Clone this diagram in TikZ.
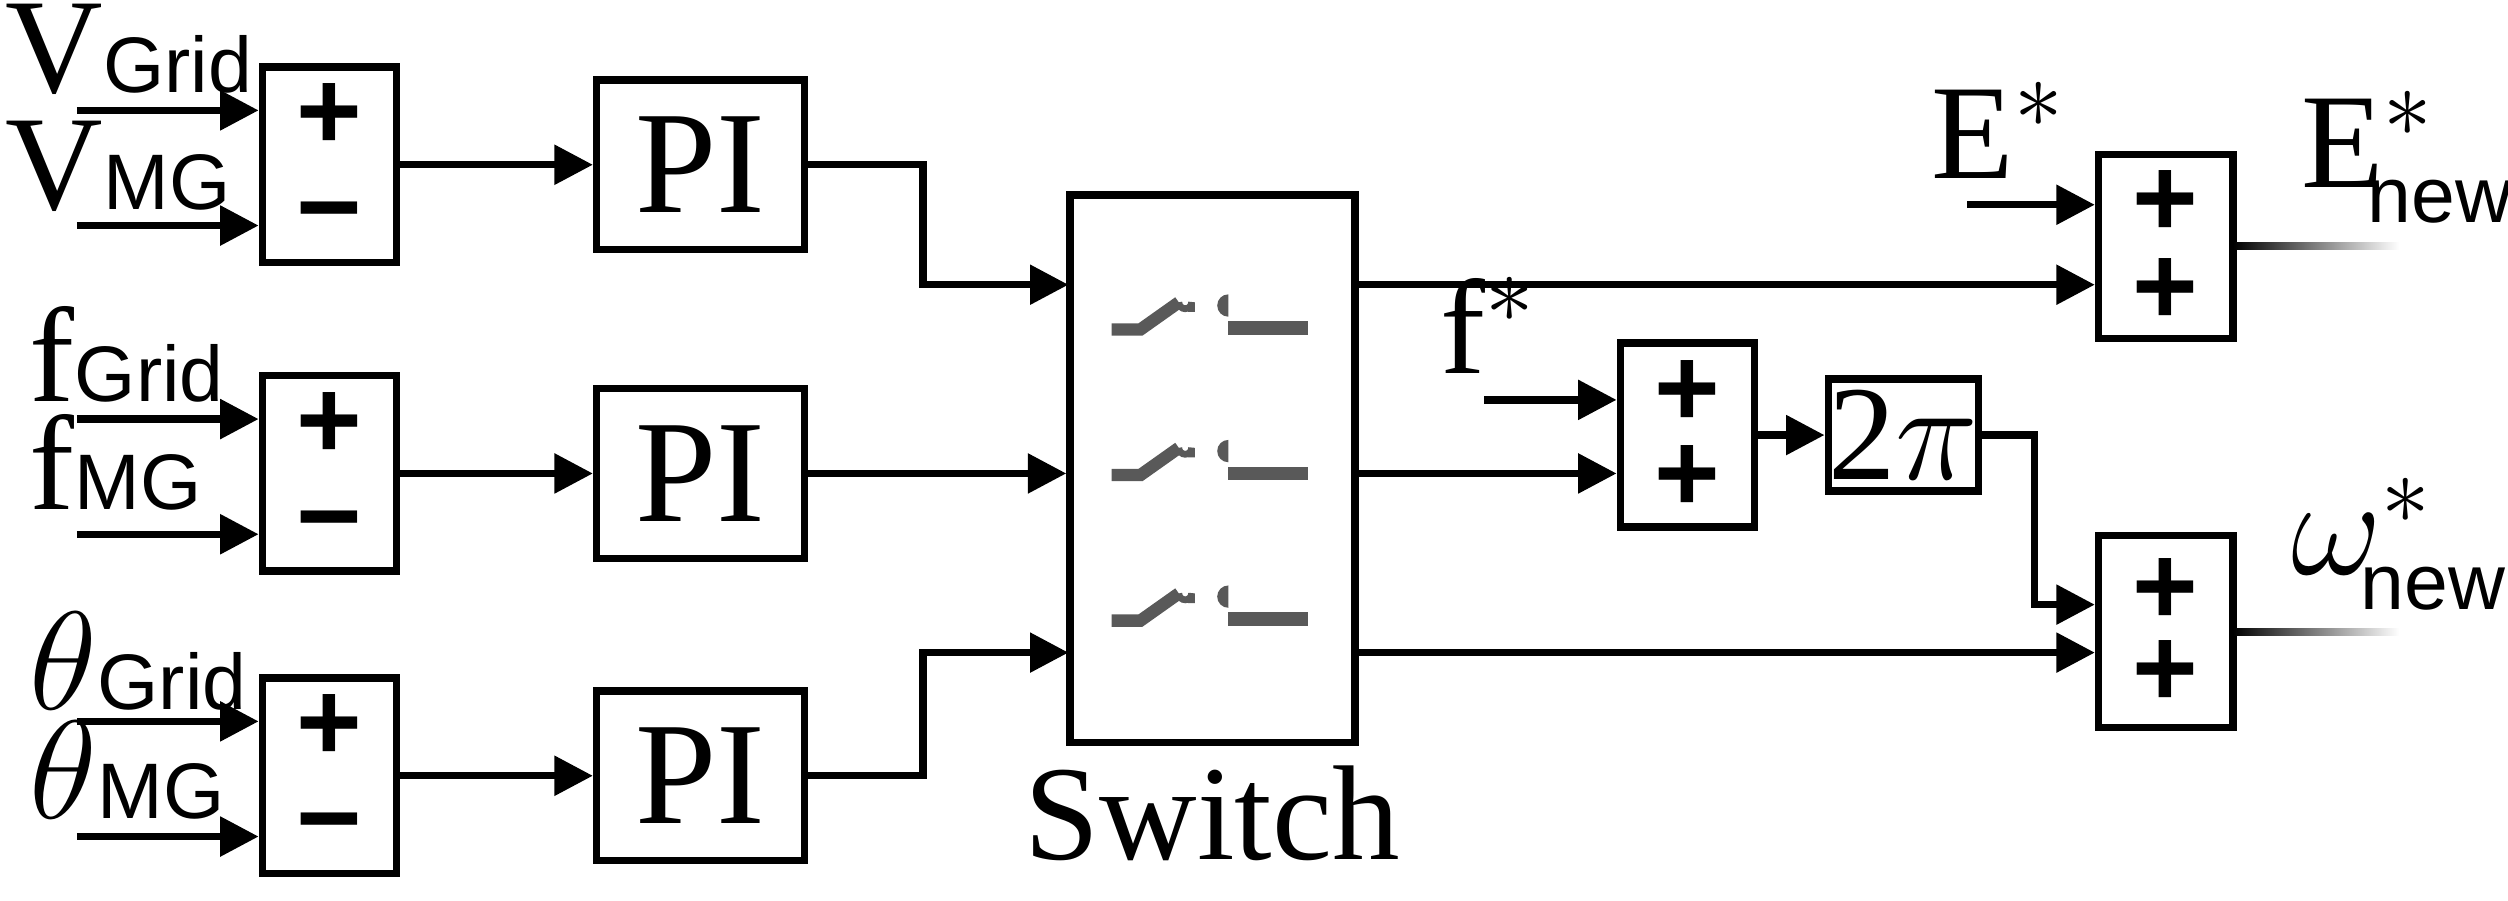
\documentclass[tikz,border=0pt]{standalone}
\usepackage{fontspec}
\setmainfont{Liberation Serif}
\newfontfamily\subfont{Liberation Sans}
\usetikzlibrary{arrows.meta,calc}
\tikzset{
  blk/.style={draw=black, line width=1.3pt, minimum width=0.84cm, minimum height=1.22cm, inner sep=0pt},
  pib/.style={draw=black, line width=1.3pt, minimum width=1.30cm, minimum height=1.06cm, inner sep=0pt, font=\fontsize{26}{26}\selectfont},
  arr/.style={line width=1.3pt, -{Triangle[length=0.24cm,width=0.24cm]}},
  sgn/.style={font=\fontsize{20}{20}\subfont\bfseries, inner sep=0pt},
  lbl/.style={font=\fontsize{24}{24}\selectfont, inner sep=0pt},
}
\newcommand{\sub}[1]{{\fontsize{14}{14}\subfont #1}}
\begin{document}
\begin{tikzpicture}[x=0.01cm,y=-0.01cm]
  \useasboundingbox (0,0) rectangle (1568,563);
  % three input rows
  \foreach \row/\y in {1/103, 2/296, 3/485}{
    \node[blk] (s\row) at (206,\y) {};
    \node[sgn] at (206,\y-30) {+};
    \node[sgn] at (206,\y+37) {\textminus};
    \coordinate (in\row a) at (48,\y-34);
    \coordinate (in\row b) at (48,\y+38);
    \draw[arr] (in\row a) -- (s\row.west |- in\row a);
    \draw[arr] (in\row b) -- (s\row.west |- in\row b);
    \node[pib] (pi\row) at (438,\y) {PI};
    \draw[arr] (s\row.east) -- (pi\row.west);
  }
  \node[lbl, anchor=south west] at (3,60) {V\sub{Grid}};
  \node[lbl, anchor=south west] at (3,133) {V\sub{MG}};
  \node[lbl, anchor=south west] at (18,252) {f\sub{Grid}};
  \node[lbl, anchor=south west] at (18,320) {f\sub{MG}};
  \node[lbl, anchor=south west] at (18,445) {$\theta$\sub{Grid}};
  \node[lbl, anchor=south west] at (18,513) {$\theta$\sub{MG}};
  % switch
  \node[draw=black, line width=1.3pt, minimum width=1.78cm, minimum height=3.42cm, inner sep=0pt] (sw) at (758,293) {};
  \node[lbl, anchor=north] (swl) at (sw.south) [yshift=-0.12cm] {Switch};
  \foreach \y in {205,296,387}{
    \draw[gray!70!black, line width=2.2pt] (695,\y+1) -- (713,\y+1) -- (737,\y-16);
    \draw[gray!70!black, line width=1.2pt] (737,\y-16) arc (180:0:4) -- (745,\y-10);
    \fill[gray!70!black] (768,\y-7) arc (90:270:7) -- cycle;
    \draw[gray!70!black, line width=2.4pt] (768,\y) -- (818,\y);
  }
  \coordinate (sin1) at (668,178);
  \coordinate (sin3) at (668,408);
  \draw[arr] (pi1.east) -| (577,178) -- (sin1);
  \draw[arr] (pi2.east) -- (sw.west |- pi2.east);
  \draw[arr] (pi3.east) -| (577,408) -- (sin3);
  % right side
  \node[blk, minimum height=1.15cm] (sE) at (1354,154) {};
  \node[sgn] at (1354,127) {+};
  \node[sgn] at (1354,182) {+};
  \node[blk, minimum height=1.15cm] (sf) at (1055,272) {};
  \node[sgn] at (1055,246) {+};
  \node[sgn] at (1055,299) {+};
  \node[draw=black, line width=1.3pt, minimum width=0.94cm, minimum height=0.70cm, inner sep=0pt, font=\fontsize{24}{24}\selectfont] (tp) at (1190,272) {2$\pi$};
  \node[blk, minimum height=1.20cm] (sw2) at (1354,395) {};
  \node[sgn] at (1354,370) {+};
  \node[sgn] at (1354,421) {+};
  \draw[arr] (sw.east |- sin1) -- (sE.west |- sin1);
  \draw[arr] (sw.east |- pi2.east) -- (sf.west |- pi2.east);
  \draw[arr] (sw.east |- sin3) -- (sw2.west |- sin3);
  \coordinate (Es) at (1230,128);
  \coordinate (fs) at (928,250);
  \coordinate (tpd) at (1272,378);
  \node[lbl, anchor=south west] at (1207,112) {E$^{*}$};
  \node[lbl, anchor=south west] at (900,234) {f$^{*}$};
  \draw[arr] (Es) -- (sE.west |- Es);
  \draw[arr] (fs) -- (sf.west |- fs);
  \draw[arr] (sf.east) -- (tp.west);
  \draw[arr] (tp.east) -| (tpd) -- (sw2.west |- tpd);
  % outputs
  \shade[left color=black, right color=white] (1396,151.8) rectangle (1500,156.2);
  \shade[left color=black, right color=white] (1396,392.8) rectangle (1500,397.2);
  \node[lbl, anchor=south west] at (1438,140) {E$^{*}_{\!\mbox{\sub{new}}}$};
  \node[lbl, anchor=south west] at (1432,382) {$\omega^{*}_{\!\mbox{\sub{new}}}$};
\end{tikzpicture}
\end{document}
